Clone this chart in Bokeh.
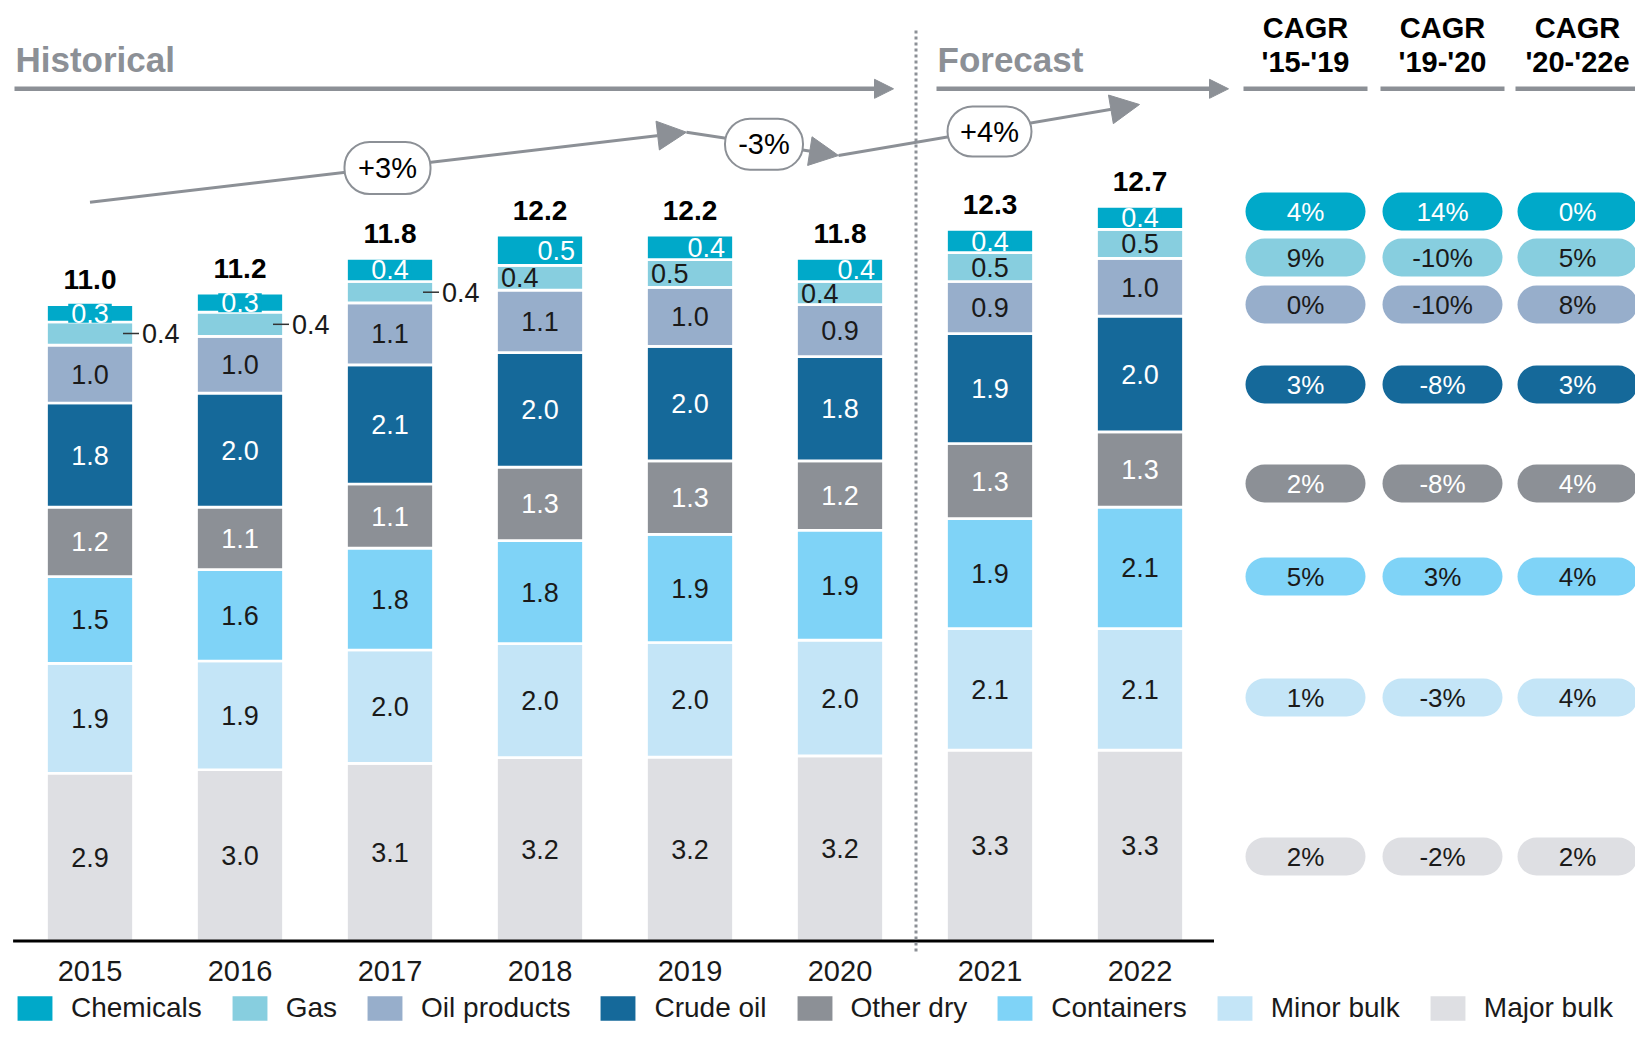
import numpy as np
from bokeh.plotting import figure
from bokeh.models import Range1d, ColumnDataSource, Arrow, NormalHead, Legend, LegendItem
from bokeh.core.properties import value
from bokeh.embed import file_html
from bokeh.resources import INLINE

# ---------------- data ----------------
years = ["2015", "2016", "2017", "2018", "2019", "2020", "2021", "2022"]
series_names = ["Major bulk", "Minor bulk", "Containers", "Other dry",
                "Crude oil", "Oil products", "Gas", "Chemicals"]          # bottom -> top
major_bulk   = [2.9, 2.96, 3.07, 3.17, 3.18, 3.2, 3.3, 3.3]
minor_bulk   = [1.9, 1.88, 1.96, 1.97, 1.98, 2.0, 2.1, 2.1]
containers   = [1.5, 1.58, 1.76, 1.78, 1.87, 1.9, 1.9, 2.1]
other_dry    = [1.2, 1.08, 1.11, 1.27, 1.27, 1.2, 1.3, 1.3]
crude_oil    = [1.8, 1.97, 2.06, 1.98, 1.98, 1.8, 1.9, 2.0]
oil_products = [1.0, 0.98, 1.07, 1.08, 1.02, 0.9, 0.9, 1.0]
gas          = [0.4, 0.42, 0.37, 0.43, 0.48, 0.4, 0.5, 0.5]
chemicals    = [0.3, 0.33, 0.40, 0.52, 0.42, 0.4, 0.4, 0.4]
totals       = [11.0, 11.2, 11.8, 12.2, 12.2, 11.8, 12.3, 12.7]

cagr_rows    = ["Chemicals", "Gas", "Oil products", "Crude oil",
                "Other dry", "Containers", "Minor bulk", "Major bulk"]
cagr_head_1  = ["CAGR", "CAGR", "CAGR"]
cagr_head_2  = ["'15-'19", "'19-'20", "'20-'22e"]
cagr_15_19   = [4, 9, 0, 3, 2, 5, 1, 2]
cagr_19_20   = [14, -10, -10, -8, -8, 3, -3, -2]
cagr_20_22   = [0, 5, 8, 3, 4, 4, 4, 2]
period_labels = ["Historical", "Forecast"]
growth_labels = ["+3%", "-3%", "+4%"]

# ---------------- styles ----------------
COL = {
    "Chemicals": "#00A9C9", "Gas": "#87CEDF", "Oil products": "#97AECB",
    "Crude oil": "#15699A", "Other dry": "#8C9096", "Containers": "#7FD3F7",
    "Minor bulk": "#C4E5F7", "Major bulk": "#DEDFE3",
}
TXT_ON = {
    "Chemicals": "white", "Gas": "#1A1A1A", "Oil products": "#1A1A1A",
    "Crude oil": "white", "Other dry": "white", "Containers": "#1A1A1A",
    "Minor bulk": "#1A1A1A", "Major bulk": "#1A1A1A",
}
GRAY = "#8C9096"
DARK = "#1A1A1A"
SANS = value("Liberation Sans")
SEG_FS = "27px"

# ---------------- layout (picture px -> data units) ----------------
W, H = 1635, 1025
SX, X0 = 150.0, 89.5      # px per category step, px of first bar centre
SY, Y0 = 57.85, 940.5     # px per unit, px of the baseline
def X(px): return (px - X0) / SX
def Y(py): return (Y0 - py) / SY
def PW(px): return px / SX
def PH(px): return px / SY

BAR_W = PW(87)
HALF = PW(42)

p = figure(width=W, height=H, x_range=Range1d(X(0), X(W)), y_range=Range1d(Y(H), Y(0)),
           x_axis_type=None, y_axis_type=None, toolbar_location=None,
           output_backend="svg", min_border=0, outline_line_color=None)

# ---------------- stacked bars ----------------
xs = list(range(len(years)))
series_vals = [major_bulk, minor_bulk, containers, other_dry, crude_oil, oil_products, gas, chemicals]
src = ColumnDataSource(dict(x=xs, **{n: v for n, v in zip(series_names, series_vals)}))
rends = p.vbar_stack(series_names, x="x", width=BAR_W, color=[COL[n] for n in series_names],
                     source=src, line_color="white", line_width=2.7)
rmap = dict(zip(series_names, rends))

# baseline
p.segment(x0=[X(12.6)], y0=[0], x1=[X(1213.5)], y1=[0], line_color="black", line_width=3)

# segment geometry
seg = {}
bot = np.zeros(len(years))
for n, v in zip(series_names, series_vals):
    v = np.array(v, dtype=float)
    seg[n] = (bot.copy(), bot + v, v)
    bot = bot + v

def lab(v):
    return f"{v:.1f}"

# plain centered labels
cx, cy, ct, cc = [], [], [], []
for n in series_names:
    b, t, v = seg[n]
    for i in xs:
        if n == "Chemicals":
            continue
        if n == "Gas" and i not in (6, 7):
            continue
        cx.append(i); cy.append((b[i] + t[i]) / 2); ct.append(lab(v[i])); cc.append(TXT_ON[n])
p.text(x=cx, y=cy, text=ct, text_color=cc, text_align="center", text_baseline="middle",
       text_font=SANS, text_font_size=SEG_FS)

# chemicals labels (boxed)
b, t, v = seg["Chemicals"]
ci = [0, 1, 2, 6, 7]
p.text(x=ci, y=[(b[i] + t[i]) / 2 for i in ci], text=[lab(v[i]) for i in ci],
       text_color="white", text_align="center", text_baseline="middle",
       text_font=SANS, text_font_size=SEG_FS,
       background_fill_color=COL["Chemicals"], padding=dict(left=3, right=3, top=0, bottom=0))
ri = [3, 4, 5]
p.text(x=[i + HALF - PW(4) for i in ri], y=[(b[i] + t[i]) / 2 for i in ri], text=[lab(v[i]) for i in ri],
       text_color="white", text_align="right", text_baseline="middle",
       text_font=SANS, text_font_size=SEG_FS,
       background_fill_color=COL["Chemicals"], padding=dict(left=3, right=3, top=0, bottom=0))

# gas labels
b, t, v = seg["Gas"]
oi = [0, 1, 2]
gy = [(b[i] + t[i]) / 2 for i in oi]
p.segment(x0=[i + HALF - PW(9) for i in oi], y0=gy, x1=[i + HALF + PW(7) for i in oi], y1=gy,
          line_color="#333333", line_width=1.5)
p.text(x=[i + HALF + PW(10) for i in oi], y=gy, text=[lab(v[i]) for i in oi],
       text_color=DARK, text_align="left", text_baseline="middle",
       text_font=SANS, text_font_size=SEG_FS)
li = [3, 4, 5]
p.text(x=[i - HALF + PW(2) for i in li], y=[(b[i] + t[i]) / 2 for i in li], text=[lab(v[i]) for i in li],
       text_color=DARK, text_align="left", text_baseline="middle",
       text_font=SANS, text_font_size=SEG_FS,
       background_fill_color=COL["Gas"], padding=dict(left=1, right=1, top=0, bottom=0))

# totals
p.text(x=xs, y=[tt + PH(25) for tt in totals], text=[lab(tt) for tt in totals],
       text_color="black", text_align="center", text_baseline="middle",
       text_font=SANS, text_font_style="bold", text_font_size="28px")

# year labels
p.text(x=xs, y=[Y(970)] * len(xs), text=years, text_color=DARK, text_align="center",
       text_baseline="middle", text_font=SANS, text_font_size="29px")

# ---------------- period headers & arrows ----------------
p.text(x=[X(15), X(937)], y=[Y(59), Y(59)], text=period_labels, text_color=GRAY,
       text_align="left", text_baseline="middle", text_font=SANS,
       text_font_style="bold", text_font_size="35px")
for xa, xb in [(14, 893), (936, 1228)]:
    p.add_layout(Arrow(end=NormalHead(size=19, fill_color=GRAY, line_color=GRAY, line_width=1),
                       x_start=X(xa), y_start=Y(88.3), x_end=X(xb), y_end=Y(88.3),
                       line_color=GRAY, line_width=4.5, level="underlay"))
p.segment(x0=[X(915.5)], y0=[Y(30)], x1=[X(915.5)], y1=[Y(953)], line_color=GRAY,
          line_width=3, line_dash="3 3")

# trend arrows
trend_pts = [(89.5, 201.7), (686, 131.7), (838, 155), (1139, 104)]
for (xa, ya), (xb, yb) in zip(trend_pts[:-1], trend_pts[1:]):
    p.add_layout(Arrow(end=NormalHead(size=29, fill_color=GRAY, line_color=GRAY, line_width=1),
                       x_start=X(xa), y_start=Y(ya), x_end=X(xb), y_end=Y(yb),
                       line_color=GRAY, line_width=3, level="underlay"))
gp = [(387, 167.5, 86, 52), (763.5, 143.7, 78, 51), (989, 131, 84, 50)]
p.quad(left=[X(c - w / 2) for c, _, w, _ in gp], right=[X(c + w / 2) for c, _, w, _ in gp],
       top=[Y(m - h / 2) for _, m, _, h in gp], bottom=[Y(m + h / 2) for _, m, _, h in gp],
       fill_color="white", line_color=GRAY, line_width=2, border_radius=25)
p.text(x=[X(c) for c, _, _, _ in gp], y=[Y(m) for _, m, _, _ in gp], text=growth_labels,
       text_color="black", text_align="center", text_baseline="middle",
       text_font=SANS, text_font_size="29px")

# ---------------- CAGR table ----------------
col_cx = [1305.0, 1442.0, 1577.0]
row_cy = [211, 257, 304, 384, 483, 576, 697, 856]
p.text(x=[X(c) for c in col_cx], y=[Y(27.5)] * 3, text=cagr_head_1, text_color="black",
       text_align="center", text_baseline="middle", text_font=SANS,
       text_font_style="bold", text_font_size="29px")
p.text(x=[X(c) for c in col_cx], y=[Y(61.5)] * 3, text=cagr_head_2, text_color="black",
       text_align="center", text_baseline="middle", text_font=SANS,
       text_font_style="bold", text_font_size="29px")
p.segment(x0=[X(c - 62) for c in col_cx], y0=[Y(88.3)] * 3, x1=[X(c + 62) for c in col_cx],
          y1=[Y(88.3)] * 3, line_color=GRAY, line_width=4.5)
for k, vals in enumerate([cagr_15_19, cagr_19_20, cagr_20_22]):
    c = col_cx[k]
    p.quad(left=[X(c - 60)] * 8, right=[X(c + 60)] * 8,
           top=[Y(r - 19) for r in row_cy], bottom=[Y(r + 19) for r in row_cy],
           fill_color=[COL[n] for n in cagr_rows], line_color=None, border_radius=19)
    p.text(x=[X(c)] * 8, y=[Y(r) for r in row_cy], text=[f"{v}%" for v in vals],
           text_color=[TXT_ON[n] for n in cagr_rows], text_align="center", text_baseline="middle",
           text_font=SANS, text_font_size="26px")

# ---------------- legend ----------------
legend = Legend(items=[LegendItem(label=n, renderers=[rmap[n]]) for n in cagr_rows],
                orientation="horizontal", location=(11, 0), glyph_width=47, glyph_height=34,
                label_standoff=13, spacing=24, padding=0, margin=0, border_line_color=None,
                background_fill_alpha=0, label_text_font="Liberation Sans",
                label_text_font_size="28px", label_text_color=DARK)
p.add_layout(legend)

open("out.html", "w").write(file_html(p, INLINE))
